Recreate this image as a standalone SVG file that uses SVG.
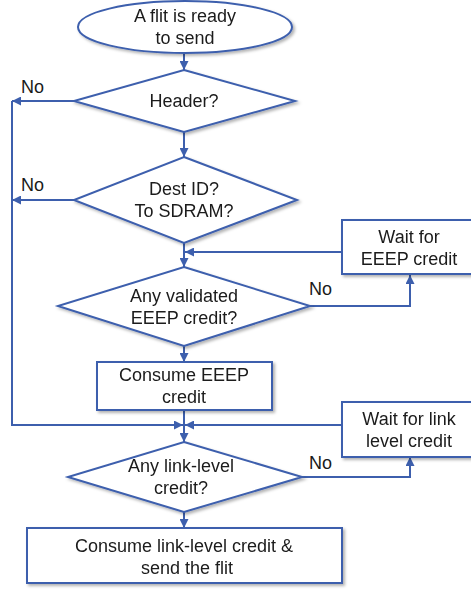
<svg xmlns="http://www.w3.org/2000/svg" width="471" height="590" viewBox="0 0 471 590">
<style>
.s{fill:#fff;stroke:#3d5fad;stroke-width:2}
.c{fill:none;stroke:#3d5fad;stroke-width:2}
text{font-family:"Liberation Sans",Arial,sans-serif;font-size:18px;fill:#1a1a1a;text-anchor:middle}
text.l{text-anchor:start}
</style>
<defs>
<filter id="sh" x="-10%" y="-10%" width="130%" height="140%">
<feDropShadow dx="2" dy="2" stdDeviation="1.5" flood-color="#000" flood-opacity="0.3"/>
</filter>
<marker id="a" viewBox="0 0 10 10" refX="10" refY="5" markerWidth="4.5" markerHeight="4.5" orient="auto" markerUnits="strokeWidth">
<path d="M0,0 L10,5 L0,10 z" fill="#3d5fad"/>
</marker>
</defs>
<rect width="471" height="590" fill="#fff"/>
<g id="connectors">
<path class="c" d="M184,53 V70" marker-end="url(#a)"/>
<path class="c" d="M184,132 V157" marker-end="url(#a)"/>
<path class="c" d="M74,101 H12"  marker-end="url(#a)"/>
<path class="c" d="M74,200 H12"  marker-end="url(#a)"/>
<path class="c" d="M12,101 V425 H183" marker-end="url(#a)"/>
<path class="c" d="M184,243 V267" marker-end="url(#a)"/>
<path class="c" d="M342,252 H185" marker-end="url(#a)"/>
<path class="c" d="M310,306 H410 V275" marker-end="url(#a)"/>
<path class="c" d="M184,346 V362" marker-end="url(#a)"/>
<path class="c" d="M184,410 V442" marker-end="url(#a)"/>
<path class="c" d="M342,425 H185" marker-end="url(#a)"/>
<path class="c" d="M302,477 H410 V457" marker-end="url(#a)"/>
<path class="c" d="M184,512 V528" marker-end="url(#a)"/>
<text class="l" x="21" y="93">No</text>
<text class="l" x="21" y="191">No</text>
<text class="l" x="309" y="295">No</text>
<text class="l" x="309" y="469">No</text>
</g>
<g id="start" filter="url(#sh)">
<ellipse class="s" cx="185" cy="27" rx="107" ry="26"/>
<text x="185" y="22">A flit is ready</text>
<text x="185" y="44">to send</text>
</g>
<g id="header" filter="url(#sh)">
<polygon class="s" points="184,70 295,101 184,132 74,101"/>
<text x="184" y="107">Header?</text>
</g>
<g id="dest" filter="url(#sh)">
<polygon class="s" points="184,157 297,200 184,243 74,200"/>
<text x="184" y="195">Dest ID?</text>
<text x="184" y="217">To SDRAM?</text>
</g>
<g id="waitEEEP" filter="url(#sh)">
<rect class="s" x="342" y="220" width="134" height="54"/>
<text x="409" y="243">Wait for</text>
<text x="409" y="265">EEEP credit</text>
</g>
<g id="anyEEEP" filter="url(#sh)">
<polygon class="s" points="184,267 310,306 184,346 58,306"/>
<text x="184" y="302">Any validated</text>
<text x="184" y="324">EEEP credit?</text>
</g>
<g id="consumeEEEP" filter="url(#sh)">
<rect class="s" x="97" y="362" width="175" height="48"/>
<text x="184" y="381">Consume EEEP</text>
<text x="184" y="403">credit</text>
</g>
<g id="waitLink" filter="url(#sh)">
<rect class="s" x="342" y="402" width="134" height="55"/>
<text x="409" y="425">Wait for link</text>
<text x="409" y="447">level credit</text>
</g>
<g id="anyLink" filter="url(#sh)">
<polygon class="s" points="184,442 302,477 184,512 68,477"/>
<text x="181" y="472">Any link-level</text>
<text x="181" y="494">credit?</text>
</g>
<g id="consumeLink" filter="url(#sh)">
<rect class="s" x="27" y="528" width="315" height="55"/>
<text x="184" y="552">Consume link-level credit &amp;</text>
<text x="187" y="574">send the flit</text>
</g>
</svg>
